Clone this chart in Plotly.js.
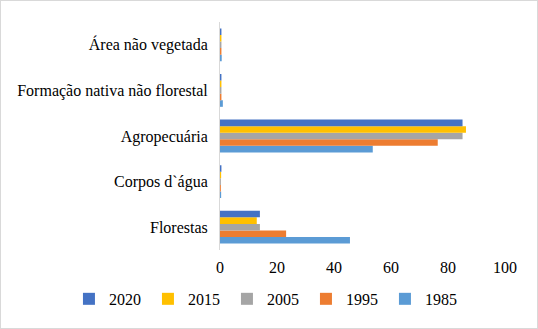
<!DOCTYPE html>
<html><head><meta charset="utf-8">
<script src="https://cdn.plot.ly/plotly-3.0.1.min.js"></script>
<style>html,body{margin:0;padding:0;background:#fff}#chart{width:536px;height:327px;border:1px solid #d9d9d9}</style>
</head><body><div id="chart"></div>
<script>
const categories = ["Florestas", "Corpos d`água", "Agropecuária", "Formação nativa não florestal", "Área não vegetada"];
const years = ["1985", "1995", "2005", "2015", "2020"];
const v1985 = [45.6, 0.4, 53.6, 1.0, 0.6];
const v1995 = [23.2, 0.3, 76.4, 0.5, 0.5];
const v2005 = [14.0, 0.3, 85.1, 0.5, 0.5];
const v2015 = [12.9, 0.4, 86.3, 0.5, 0.5];
const v2020 = [14.0, 0.5, 85.1, 0.5, 0.5];
const colors = {"2020": "#4472C4", "2015": "#FFC000", "2005": "#A5A5A5", "1995": "#ED7D31", "1985": "#5B9BD5"};
const values = {"1985": v1985, "1995": v1995, "2005": v2005, "2015": v2015, "2020": v2020};
const traces = years.map(y => ({
  type: "bar", orientation: "h", name: y, y: categories, x: values[y],
  marker: {color: colors[y]}, hoverinfo: "x+name"
}));
const font = {family: "Liberation Serif", size: 16, color: "#000"};
Plotly.newPlot("chart", traces, {
  width: 536, height: 327,
  margin: {l: 219, r: 32, t: 21, b: 72},
  font: font,
  barmode: "group", bargap: 0.28, bargroupgap: 0,
  paper_bgcolor: "#fff", plot_bgcolor: "#fff",
  xaxis: {range: [0, 100], dtick: 20, showgrid: false, zeroline: false, showline: false, ticks: "", tickfont: font, ticklabelstandoff: 6},
  yaxis: {showgrid: false, zeroline: false, showline: true, linecolor: "#d9d9d9", linewidth: 1, ticks: "", tickfont: font, ticklabelstandoff: 8},
  legend: {orientation: "h", x: -0.53, xanchor: "left", y: -0.14, yanchor: "top", traceorder: "reversed", font: font, itemwidth: 30, entrywidth: 34, entrywidthmode: "pixels"},
  showlegend: true
}, {staticPlot: true});
</script></body></html>
